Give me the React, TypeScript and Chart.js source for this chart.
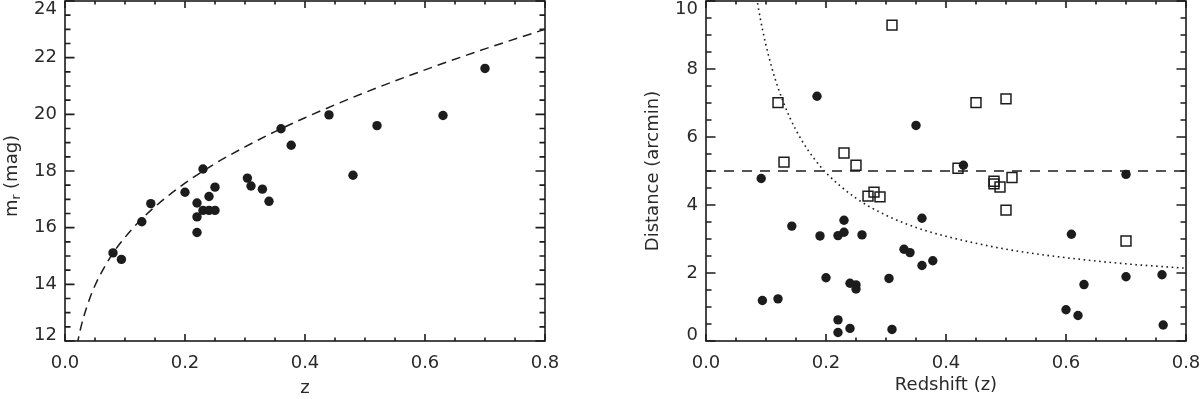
import React, { useEffect, useRef } from "react";
import { Chart, registerables } from "chart.js";

Chart.register(...registerables);

const INK = "#1c1c1c";
const TEXT = "#2a2a2a";
const FONT = "'DejaVu Sans', sans-serif";

// ---------- Left panel: apparent magnitude vs redshift ----------
const magZ = [0.08, 0.094, 0.128, 0.143, 0.2, 0.22, 0.22, 0.22, 0.23, 0.24, 0.25, 0.24, 0.25, 0.23, 0.304, 0.31, 0.329, 0.34, 0.36, 0.377, 0.44, 0.48, 0.52, 0.63, 0.70];
const magR = [15.11, 14.88, 16.21, 16.85, 17.25, 16.87, 16.38, 15.83, 16.61, 16.61, 16.61, 17.10, 17.43, 18.07, 17.75, 17.47, 17.36, 16.93, 19.49, 18.91, 19.98, 17.85, 19.60, 19.96, 21.62];

// dashed limit curve
const limitZ = [0.02, 0.025, 0.03, 0.04, 0.05, 0.06, 0.08, 0.10, 0.12, 0.15, 0.2, 0.25, 0.3, 0.35, 0.4, 0.5, 0.6, 0.7, 0.8];
const limitM = [11.85, 12.35, 12.77, 13.43, 13.96, 14.39, 15.10, 15.66, 16.14, 16.74, 17.57, 18.26, 18.85, 19.39, 19.88, 20.77, 21.57, 22.31, 23.00];

const zTickLabels = ["0.0", "0.2", "0.4", "0.6", "0.8"];
const magTickLabels = ["12", "14", "16", "18", "20", "22", "24"];
const distTickLabels = ["0", "2", "4", "6", "8", "10"];

// ---------- Right panel: distance vs redshift ----------
const circZ = [0.092, 0.094, 0.12, 0.143, 0.185, 0.19, 0.20, 0.22, 0.22, 0.22, 0.23, 0.23, 0.24, 0.24, 0.25, 0.25, 0.26, 0.305, 0.31, 0.33, 0.34, 0.35, 0.36, 0.36, 0.378, 0.429, 0.60, 0.609, 0.62, 0.63, 0.70, 0.70, 0.76, 0.762];
const circD = [4.78, 1.19, 1.24, 3.38, 7.20, 3.09, 1.86, 3.10, 0.62, 0.25, 3.55, 3.20, 1.70, 0.37, 1.65, 1.53, 3.12, 1.84, 0.34, 2.70, 2.60, 6.34, 3.61, 2.22, 2.36, 5.17, 0.92, 3.14, 0.75, 1.66, 4.90, 1.89, 1.95, 0.47];

const sqZ = [0.12, 0.13, 0.23, 0.25, 0.27, 0.28, 0.29, 0.31, 0.42, 0.45, 0.48, 0.48, 0.49, 0.50, 0.50, 0.51, 0.70];
const sqD = [7.01, 5.26, 5.53, 5.17, 4.26, 4.38, 4.24, 9.29, 5.08, 7.01, 4.70, 4.62, 4.53, 7.12, 3.85, 4.81, 2.94];

// dotted curve
const dotZ = [0.083, 0.09, 0.10, 0.11, 0.12, 0.14, 0.16, 0.18, 0.2, 0.25, 0.3, 0.35, 0.4, 0.5, 0.6, 0.7, 0.8];
const dotD = [10.24, 9.53, 8.70, 8.02, 7.45, 6.56, 5.89, 5.37, 4.95, 4.20, 3.70, 3.34, 3.08, 2.70, 2.45, 2.27, 2.14];

// dashed horizontal cut
const cutZ = [0, 0.8];
const cutD = [5, 5];

const pts = (xs: number[], ys: number[]) => xs.map((x, i) => ({ x, y: ys[i] }));

const idlPlugin = {
  id: "idl",
  afterDraw(chart: any, _args: any, o: any) {
    const { ctx, chartArea: a } = chart;
    const xs = chart.scales.x;
    const ys = chart.scales.y;
    ctx.save();
    ctx.strokeStyle = INK;
    ctx.lineWidth = 1.6;
    ctx.strokeRect(a.left, a.top, a.right - a.left, a.bottom - a.top);
    ctx.beginPath();
    const nx = Math.round((xs.max - xs.min) / o.xMinor);
    for (let i = 0; i <= nx; i++) {
      const v = xs.min + i * o.xMinor;
      const len = i % o.xPer === 0 ? 7 : 3.5;
      const px = xs.getPixelForValue(v);
      ctx.moveTo(px, a.bottom);
      ctx.lineTo(px, a.bottom - len);
      ctx.moveTo(px, a.top);
      ctx.lineTo(px, a.top + len);
    }
    const ny = Math.round((ys.max - ys.min) / o.yMinor);
    for (let i = 0; i <= ny; i++) {
      const v = ys.min + i * o.yMinor;
      const len = i % o.yPer === 0 ? 9.5 : 5.5;
      const py = ys.getPixelForValue(v);
      ctx.moveTo(a.left, py);
      ctx.lineTo(a.left + len, py);
      ctx.moveTo(a.right, py);
      ctx.lineTo(a.right - len, py);
    }
    ctx.stroke();

    // y tick labels
    ctx.fillStyle = TEXT;
    ctx.font = `18px ${FONT}`;
    ctx.textAlign = "right";
    ctx.textBaseline = "middle";
    ys.ticks.forEach((t: any, i: number) => {
      const py = ys.getPixelForValue(t.value);
      const y = Math.min(Math.max(py, a.top + 8), a.bottom - 6);
      ctx.fillText(o.yLabels[i] ?? "", a.left - 8, y);
    });

    // x title
    ctx.textAlign = "center";
    ctx.fillText(o.xTitle, (a.left + a.right) / 2, o.xTitleY);

    // y title (rotated)
    ctx.translate(o.yTitleX, o.yTitleY);
    ctx.rotate(-Math.PI / 2);
    ctx.textAlign = "left";
    const parts: [string, number, number][] = o.yTitleParts;
    let total = 0;
    parts.forEach(([s, size]) => {
      ctx.font = `${size}px ${FONT}`;
      total += ctx.measureText(s).width;
    });
    let x = -total / 2;
    parts.forEach(([s, size, dy]) => {
      ctx.font = `${size}px ${FONT}`;
      ctx.fillText(s, x, dy);
      x += ctx.measureText(s).width;
    });
    ctx.restore();
  },
};

const xScale = () => ({
  type: "linear",
  min: 0,
  max: 0.8,
  grid: { display: false, drawTicks: false },
  border: { display: false },
  ticks: {
    stepSize: 0.2,
    autoSkip: false,
    maxRotation: 0,
    padding: 12,
    color: TEXT,
    font: { family: FONT, size: 18 },
    callback: (v: any) => zTickLabels[Math.round(Number(v) / 0.2)] ?? "",
  },
  afterFit: (s: any) => {
    s.height = 58;
    s.paddingLeft = 0;
    s.paddingRight = 0;
  },
});

const yScale = (min: number, max: number, width: number) => ({
  type: "linear",
  min,
  max,
  grid: { display: false, drawTicks: false },
  border: { display: false },
  ticks: { stepSize: 2, display: false },
  afterFit: (s: any) => {
    s.width = width;
    s.paddingTop = 0;
    s.paddingBottom = 0;
  },
});

const leftConfig = (): any => ({
  type: "scatter",
  data: {
    datasets: [
      {
        data: pts(magZ, magR),
        pointRadius: 4.7,
        pointStyle: "circle",
        backgroundColor: INK,
        borderWidth: 0,
      },
      {
        data: pts(limitZ, limitM),
        showLine: true,
        borderColor: INK,
        borderWidth: 1.5,
        borderDash: [9, 6],
        pointRadius: 0,
        fill: false,
        cubicInterpolationMode: "monotone",
      },
    ],
  },
  options: {
    responsive: false,
    animation: false,
    devicePixelRatio: 1,
    layout: { autoPadding: false, padding: { left: 0, right: 55, top: 1, bottom: 0 } },
    plugins: {
      legend: { display: false },
      tooltip: { enabled: false },
      idl: {
        xMinor: 0.05,
        xPer: 4,
        yMinor: 0.5,
        yPer: 4,
        yLabels: magTickLabels,
        xTitle: "z",
        xTitleY: 388,
        yTitleX: 12,
        yTitleY: 176,
        yTitleParts: [
          ["m", 18, 0],
          ["r", 12, 5],
          [" (mag)", 18, 0],
        ],
      },
    },
    scales: { x: xScale(), y: yScale(12, 24, 65) },
  },
  plugins: [idlPlugin],
});

const rightConfig = (): any => ({
  type: "scatter",
  data: {
    datasets: [
      {
        data: pts(circZ, circD),
        pointRadius: 4.7,
        pointStyle: "circle",
        backgroundColor: INK,
        borderWidth: 0,
      },
      {
        data: pts(sqZ, sqD),
        pointRadius: 7,
        pointStyle: "rect",
        backgroundColor: "rgba(0,0,0,0)",
        borderColor: INK,
        borderWidth: 1.5,
      },
      {
        data: pts(cutZ, cutD),
        showLine: true,
        borderColor: INK,
        borderWidth: 1.5,
        borderDash: [10, 8],
        pointRadius: 0,
        fill: false,
      },
      {
        data: pts(dotZ, dotD),
        showLine: true,
        borderColor: INK,
        borderWidth: 1.6,
        borderDash: [1.6, 3.6],
        pointRadius: 0,
        fill: false,
        cubicInterpolationMode: "monotone",
      },
    ],
  },
  options: {
    responsive: false,
    animation: false,
    devicePixelRatio: 1,
    layout: { autoPadding: false, padding: { left: 0, right: 14, top: 1, bottom: 0 } },
    plugins: {
      legend: { display: false },
      tooltip: { enabled: false },
      idl: {
        xMinor: 0.05,
        xPer: 4,
        yMinor: 0.5,
        yPer: 4,
        yLabels: distTickLabels,
        xTitle: "Redshift (z)",
        xTitleY: 385,
        yTitleX: 53,
        yTitleY: 171,
        yTitleParts: [["Distance (arcmin)", 18, 0]],
      },
    },
    scales: { x: xScale(), y: yScale(0, 10, 106) },
  },
  plugins: [idlPlugin],
});

function Panel({ make, left }: { make: () => any; left: number }) {
  const ref = useRef<HTMLCanvasElement>(null);
  useEffect(() => {
    const chart = new Chart(ref.current as HTMLCanvasElement, make());
    return () => chart.destroy();
  }, []);
  return (
    <canvas
      ref={ref}
      width={600}
      height={399}
      style={{ position: "absolute", left, top: 0, width: 600, height: 399 }}
    />
  );
}

export default function App() {
  return (
    <div
      style={{
        position: "absolute",
        left: 0,
        top: 0,
        width: 1200,
        height: 399,
        background: "#fff",
        overflow: "hidden",
      }}
    >
      <Panel make={leftConfig} left={0} />
      <Panel make={rightConfig} left={600} />
    </div>
  );
}
